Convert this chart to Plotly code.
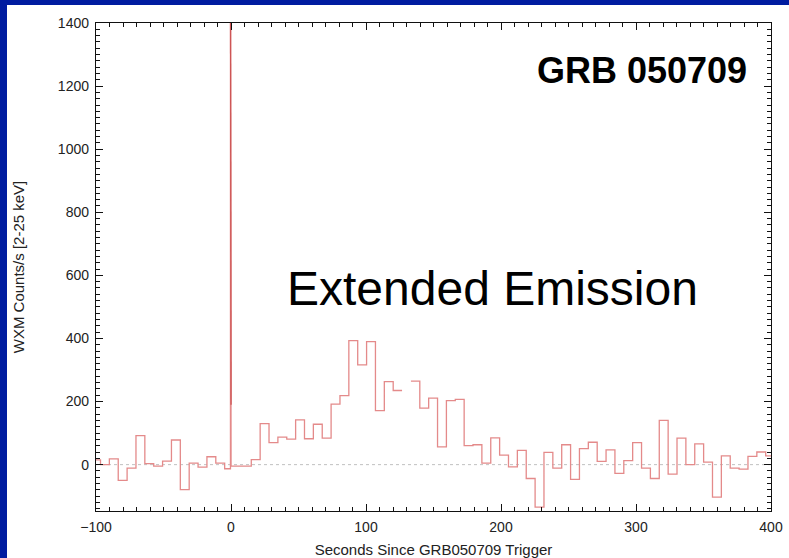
import plotly.graph_objects as go

# ---- data ----
bin_first_index = -1
bin_t0 = -96.67          # left edge of bin index 0 (s)
bin_width = 6.57         # s
rates = [15, 0, 18, -50, -11, 92, 3, -5, 11, 78, -79, 5, -8, 25, 5, -13,
         -5, -5, 16, 130, 70, 87, 81, 142, 82, 128, 84, 192, 219, 393, 316,
         390, 171, 263, 235, None, 265, 179, 211, 56, 203, 207, 60, 63, 5, 85,
         30, -7, 45, -44, -135, 39, -11, 63, -47, 51, 71, 10, 47, -28, 13, 70,
         -11, -44, 140, -30, 84, 0, 66, 8, -103, 28, -11, -14, 26, 40, 28]

spike_edges = [-0.4, -0.25, -0.1, 0.05]
spike_rates = [1700, 980, 190]
post_spike_rate = -5

x_ticks = [-100, 0, 100, 200, 300, 400]
y_ticks = [0, 200, 400, 600, 800, 1000, 1200, 1400]

# ---- build step segments ----
segs = []
for i, v in enumerate(rates):
    k = bin_first_index + i
    lo, hi = bin_t0 + bin_width * k, bin_t0 + bin_width * (k + 1)
    if lo < spike_edges[0] < hi:
        segs.append((lo, spike_edges[0], v))
        for a, b, r in zip(spike_edges[:-1], spike_edges[1:], spike_rates):
            segs.append((a, b, r))
        segs.append((spike_edges[-1], hi, post_spike_rate))
    else:
        segs.append((lo, hi, v))

xs, ys = [], []
for a, b, v in segs:
    if v is None:
        xs.append(None); ys.append(None)
    else:
        xs += [a, b]; ys += [v, v]

sx, sy = [], []
for a, b, r in zip(spike_edges[:-1], spike_edges[1:], spike_rates):
    sx += [a, b]; sy += [r, r]

fig = go.Figure()
fig.add_trace(go.Scatter(x=xs, y=ys, mode="lines", connectgaps=False,
                         line=dict(color="rgb(228,138,138)", width=1.3),
                         hoverinfo="skip", showlegend=False))
fig.add_trace(go.Scatter(x=sx, y=sy, mode="lines",
                         line=dict(color="rgb(205,85,85)", width=1.3),
                         hoverinfo="skip", showlegend=False))

font_family = "Liberation Sans, Arial, sans-serif"
axis_common = dict(
    showline=True, linecolor="#111", linewidth=1.4, mirror="ticks",
    ticks="inside", ticklen=7, tickwidth=1, tickcolor="#111",
    showgrid=False, zeroline=False, ticklabelstandoff=3,
    tickfont=dict(family=font_family, size=14, color="#222"),
)

fig.update_layout(
    width=789, height=558,
    margin=dict(l=96, r=18, t=23, b=47),
    paper_bgcolor="white", plot_bgcolor="white",
    font=dict(family=font_family, color="#222"),
    xaxis=dict(range=[-100, 400], tickvals=x_ticks,
               minor=dict(ticks="inside", dtick=10, ticklen=4, tickcolor="#111"),
               title=dict(text="Seconds Since GRB050709 Trigger",
                          font=dict(size=15, family=font_family, color="#222"),
                          standoff=10),
               automargin=False, **axis_common),
    yaxis=dict(range=[-147, 1400], tickvals=y_ticks,
               minor=dict(ticks="inside", dtick=20, ticklen=4, tickcolor="#111"),
               title=dict(text="WXM Counts/s [2-25 keV]",
                          font=dict(size=15, family=font_family, color="#222"),
                          standoff=29),
               automargin=False, **axis_common),
    shapes=[
        dict(type="line", xref="paper", x0=0, x1=1, yref="y", y0=0, y1=0,
             line=dict(color="#c0c0c0", width=1, dash="dot"), layer="below"),
        # blue slide border (top and left)
        dict(type="rect", xref="paper", yref="paper", x0=-0.2, x1=1.1,
             y0=(511 - 5) / 488, y1=1.2, fillcolor="rgb(0,28,160)",
             line=dict(width=0), layer="above"),
        dict(type="rect", xref="paper", yref="paper", x0=-0.2, x1=(7 - 96) / 675,
             y0=-0.2, y1=1.2, fillcolor="rgb(0,28,160)",
             line=dict(width=0), layer="above"),
    ],
    annotations=[
        dict(text="<b>GRB 050709</b>", x=384, y=1251, xref="x", yref="y",
             xanchor="right", yanchor="middle", showarrow=False,
             font=dict(family=font_family, size=36, color="black")),
        dict(text="Extended Emission", x=40, y=557, xref="x", yref="y",
             xanchor="left", yanchor="middle", showarrow=False,
             font=dict(family=font_family, size=48, color="black")),
    ],
)

fig.write_html("out.html")
